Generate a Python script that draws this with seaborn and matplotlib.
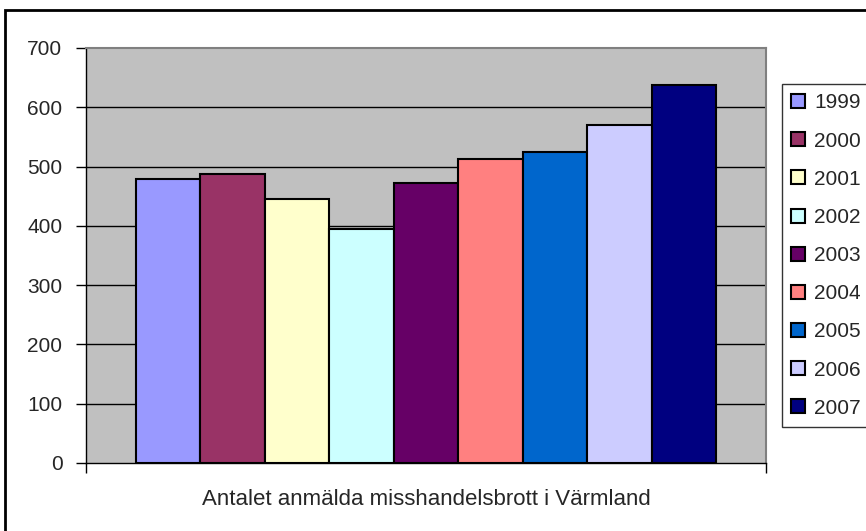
import matplotlib
matplotlib.use("Agg")
import matplotlib.pyplot as plt
import seaborn as sns
import pandas as pd
from matplotlib.patches import Rectangle

years = ["1999", "2000", "2001", "2002", "2003", "2004", "2005", "2006", "2007"]
values = [479, 488, 445, 395, 473, 513, 524, 570, 637]
colors = ["#9999FF", "#993366", "#FFFFCC", "#CCFFFF", "#660066",
          "#FF8080", "#0066CC", "#CCCCFF", "#000080"]
category = ["Antalet anmälda misshandelsbrott i Värmland"]
yticks = [0, 100, 200, 300, 400, 500, 600, 700]

df = pd.DataFrame({"cat": category * len(years), "year": years, "value": values})

sns.set_style("white")
plt.rcParams["font.family"] = ["Liberation Sans", "DejaVu Sans"]

fig = plt.figure(figsize=(8.66, 5.31), dpi=100)
ax = fig.add_axes([86/866, 68/531, 680/866, 415/531])
ax.set_facecolor("#C0C0C0")

sns.barplot(data=df, x="cat", y="value", hue="year", palette=colors,
            saturation=1, width=0.853, edgecolor="black", linewidth=1.5, ax=ax,
            legend=True, zorder=3)

ax.set_ylim(0, 700)
ax.set_xlim(-0.5, 0.5)
ax.set_yticks(yticks)
ax.set_yticklabels([str(v) for v in yticks], fontsize=15)
for v in yticks[1:-1]:
    ax.axhline(v, color="black", lw=1.0, zorder=1)
ax.set_xticks([-0.5, 0.5])
ax.set_xticklabels(["", ""])
ax.tick_params(axis="y", direction="out", length=7, width=1, color="black", pad=10, left=True)
ax.tick_params(axis="x", direction="out", length=7, width=1, color="black", bottom=True)
ax.set_ylabel("")
ax.set_xlabel(category[0], fontsize=16, labelpad=8)

for side in ["top", "right"]:
    ax.spines[side].set_visible(True)
    ax.spines[side].set_color("#808080")
    ax.spines[side].set_linewidth(1.5)
for side in ["left", "bottom"]:
    ax.spines[side].set_visible(True)
    ax.spines[side].set_color("black")
    ax.spines[side].set_linewidth(1.0)

handles, labels = ax.get_legend_handles_labels()
ax.get_legend().remove()
leg = fig.legend(handles, labels, loc="upper left",
                 bbox_to_anchor=(782/866, 1 - 84/531), bbox_transform=fig.transFigure,
                 fontsize=15, frameon=True, fancybox=False, edgecolor="black",
                 handlelength=0.65, handleheight=0.65, handletextpad=0.45,
                 labelspacing=0.92, borderpad=0.45, borderaxespad=0)
leg.get_frame().set_linewidth(1.0)

fig.patches.append(Rectangle((5/866, -0.1), 1.2, 1 - 10/531 + 0.1,
                             transform=fig.transFigure, fill=False,
                             edgecolor="black", lw=2, zorder=10))

fig.savefig("out.png", dpi=100, facecolor="white")
